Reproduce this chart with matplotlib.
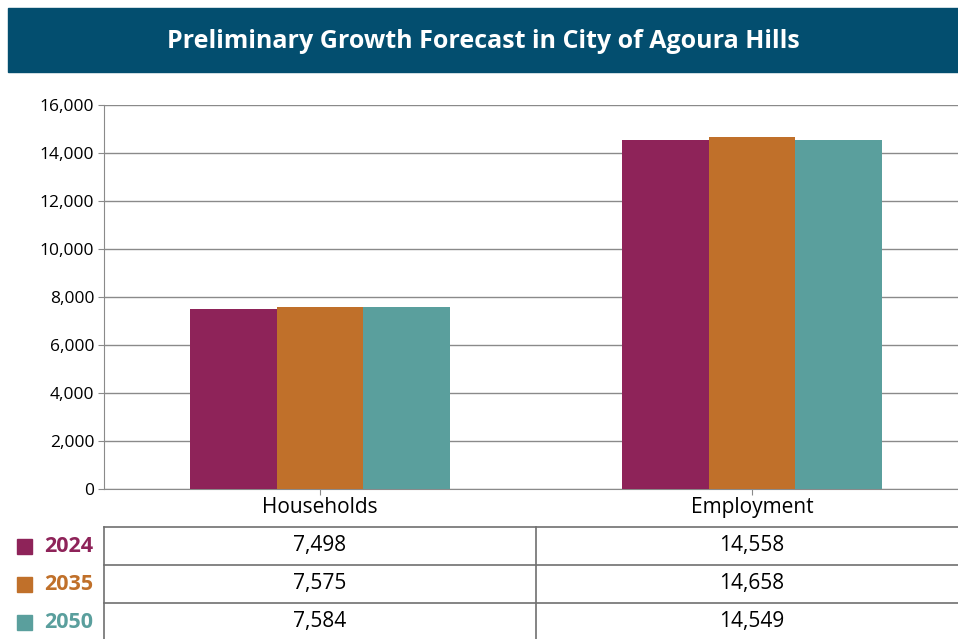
import numpy as np
import matplotlib.pyplot as plt
from matplotlib.patches import Rectangle

# Preliminary growth forecast, Agoura Hills

categories = ['Households', 'Employment']
years = ['2024', '2035', '2050']
values_2024 = [7498, 14558]
values_2035 = [7575, 14658]
values_2050 = [7584, 14549]
yticks = [0, 2000, 4000, 6000, 8000, 10000, 12000, 14000, 16000]

series = [values_2024, values_2035, values_2050]
colors = ['#8e2359', '#c0702a', '#5a9f9d']
grid_col = '#8a8a8a'

plt.rcParams['font.family'] = ['Open Sans', 'DejaVu Sans']

W, H = 958, 639
fig = plt.figure(figsize=(W / 100, H / 100), dpi=100)
fig.patch.set_facecolor('white')

def box(x0, y0, x1, y1):
    # pixel box (top-left origin) -> figure fraction
    return [x0 / W, 1 - y1 / H, (x1 - x0) / W, (y1 - y0) / H]

# title banner
fig.patches.append(Rectangle((8 / W, 1 - 72 / H), (W - 8) / W, 64 / H,
                             transform=fig.transFigure, color='#034e6f', zorder=0))
fig.text((8 + W) / 2 / W, 1 - 41 / H, 'Preliminary Growth Forecast in City of Agoura Hills',
         color='white', fontsize=18, fontweight='bold', ha='center', va='center')

# bar chart
ax = fig.add_axes(box(104, 105, 958, 489))
x = np.arange(len(categories))
bw = 0.2
for i, vals in enumerate(series):
    ax.bar(x + (i - 1) * bw, vals, bw, color=colors[i], zorder=3)

ax.set_xlim(-0.5, -0.5 + (958 - 104) / 432)
ax.set_ylim(0, 16000)
ax.set_yticks(yticks)
ax.set_yticklabels([f'{v:,}' for v in yticks], fontsize=12.5)
ax.set_xticks(x)
ax.set_xticklabels(categories, fontsize=15)
ax.yaxis.grid(True, color=grid_col, linewidth=1, zorder=0)
for s in ['top', 'right']:
    ax.spines[s].set_visible(False)
for s in ['left', 'bottom']:
    ax.spines[s].set_color(grid_col)
ax.tick_params(axis='y', length=4, color=grid_col, pad=3)
ax.tick_params(axis='x', length=4, color=grid_col, pad=2)

# data table below the chart
tb = fig.add_axes(box(0, 527, 958, 639))
tb.set_xlim(0, W)
tb.set_ylim(639, 527)
tb.axis('off')
row_y = [527, 565, 603, 641]
for yy in row_y[:-1]:
    tb.plot([104, W], [yy, yy], color='#707070', lw=1.2, clip_on=False)
for xx in [104, 536]:
    tb.plot([xx, xx], [527, 641], color='#707070', lw=1.2, clip_on=False)
col_x = [320, 752]
for r, yr in enumerate(years):
    cy = (row_y[r] + row_y[r + 1]) / 2
    tb.add_patch(Rectangle((17, cy - 7.5), 15, 15, color=colors[r]))
    tb.text(44, cy, yr, color=colors[r], fontsize=15.5, fontweight='bold', va='center', ha='left')
    for c in range(len(categories)):
        tb.text(col_x[c], cy, f'{series[r][c]:,}', fontsize=15, va='center', ha='center')

fig.savefig('out.png', dpi=100)
